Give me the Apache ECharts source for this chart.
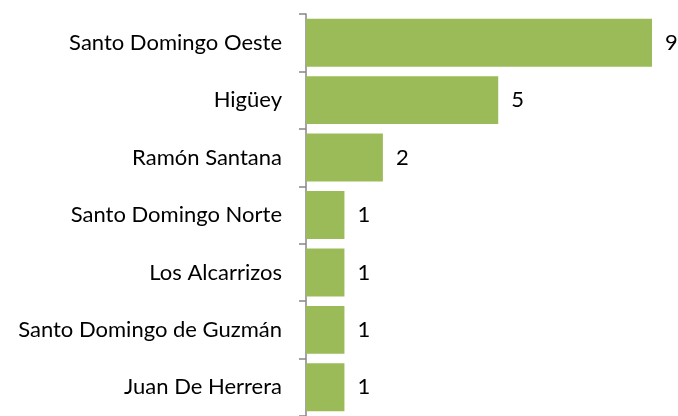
<!DOCTYPE html>
<html>
<head>
<meta charset="utf-8">
<script src="https://cdn.jsdelivr.net/npm/echarts@6/dist/echarts.min.js"></script>
<style>html,body{margin:0;padding:0;background:#fff}#c{width:678px;height:416px}</style>
</head>
<body>
<div id="c"></div>
<script>
const categories = ["Santo Domingo Oeste", "Higüey", "Ramón Santana", "Santo Domingo Norte", "Los Alcarrizos", "Santo Domingo de Guzmán", "Juan De Herrera"];
const values = [9, 5, 2, 1, 1, 1, 1];

const chart = echarts.init(document.getElementById('c'), null, {renderer: 'canvas'});
chart.setOption({
  animation: false,
  grid: {left: 306, top: 14, width: 346, height: 406, containLabel: false},
  xAxis: {
    type: 'value', min: 0, max: 9, show: false
  },
  yAxis: {
    type: 'category', data: categories, inverse: true,
    axisLine: {show: true, lineStyle: {color: '#868686', width: 1.5}},
    axisTick: {show: true, length: 7, lineStyle: {color: '#868686', width: 1.5}},
    axisLabel: {color: '#000', fontFamily: 'Lato', fontSize: 22, margin: 24}
  },
  series: [{
    type: 'bar', data: values, barCategoryGap: '16.5%',
    itemStyle: {color: '#9BBB59'},
    label: {show: true, position: 'right', distance: 13, color: '#000', fontFamily: 'Lato', fontSize: 22}
  }]
});
</script>
</body>
</html>
